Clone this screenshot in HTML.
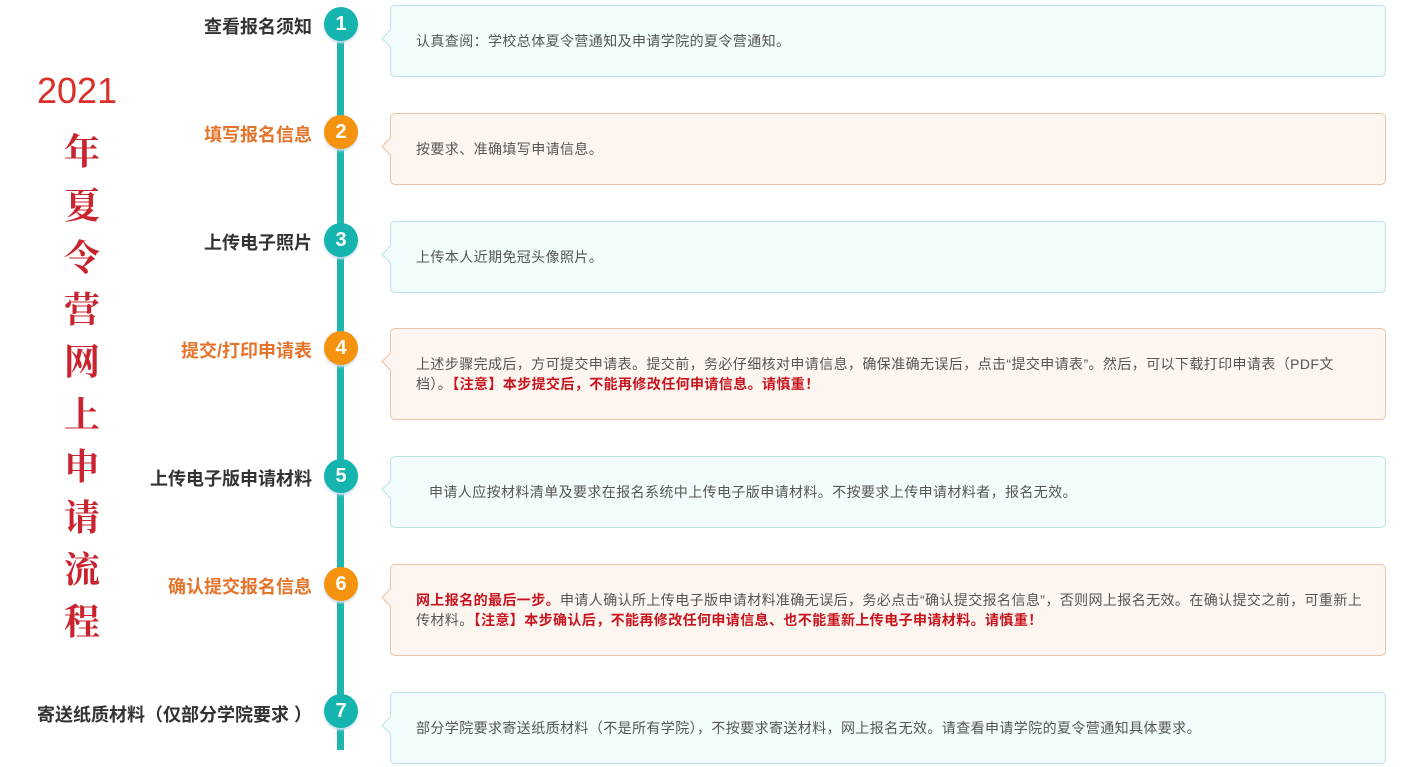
<!DOCTYPE html>
<html><head><meta charset="utf-8"><style>
body{margin:0;width:1417px;height:767px;background:#fff;position:relative;overflow:hidden;font-family:"Liberation Sans","Noto Sans CJK SC",sans-serif}
.line{position:absolute;left:337px;top:20px;width:7px;height:730px;background:#1fb5b0}
.c{position:absolute;width:34px;height:34px;border-radius:50%;color:#fff;font:bold 20px "Liberation Sans",sans-serif;text-align:center;line-height:34px;left:324px;box-shadow:0 2px 2px #cde}
.t{background:#16b4ae}.o{background:#f5930f}
.l{position:absolute;right:1105px;font-weight:bold;font-size:18px;white-space:nowrap;transform:translateY(-50%)}
.dk{color:#333}.or{color:#e5742a}
.b{position:absolute;left:390px;width:996px;border-radius:5px;font-size:14px;letter-spacing:0.4px;color:#555;box-sizing:border-box;padding-left:25px;display:flex;align-items:center;line-height:20px}
.bt{background:#f2fcfc;border:1px solid #b9e3e6}
.bo{background:#fdf5ef;border:1px solid #ecc1a6}
.b:before{content:"";position:absolute;left:-7px;top:26px;width:12px;height:12px;transform:rotate(45deg);background:inherit;border-left:inherit;border-bottom:inherit}
.r{color:#c8141e;font-weight:bold}
.yr{position:absolute;left:37px;top:70px;color:#d9302a;font-size:36px}
.v{position:absolute;left:62px;width:40px;text-align:center;color:#c8232e;font-size:36px;font-weight:bold;font-family:"Noto Serif CJK SC",serif}
</style></head><body>
<div class="yr">2021</div>
<div class="v" style="top:124px">年</div>
<div class="v" style="top:178px">夏</div>
<div class="v" style="top:230px">令</div>
<div class="v" style="top:282px">营</div>
<div class="v" style="top:334px">网</div>
<div class="v" style="top:387px">上</div>
<div class="v" style="top:439px">申</div>
<div class="v" style="top:490px">请</div>
<div class="v" style="top:542px">流</div>
<div class="v" style="top:594px">程</div>
<div class="line"></div>
<div class="c t" style="top:7px">1</div>
<div class="c o" style="top:115px">2</div>
<div class="c t" style="top:223px">3</div>
<div class="c o" style="top:331px">4</div>
<div class="c t" style="top:459px">5</div>
<div class="c o" style="top:567px">6</div>
<div class="c t" style="top:694px">7</div>
<div class="l dk" style="top:26px">查看报名须知</div>
<div class="l or" style="top:134px">填写报名信息</div>
<div class="l dk" style="top:242px">上传电子照片</div>
<div class="l or" style="top:350px">提交/打印申请表</div>
<div class="l dk" style="top:478px">上传电子版申请材料</div>
<div class="l or" style="top:586px">确认提交报名信息</div>
<div class="l dk" style="top:714px">寄送纸质材料（仅部分学院要求 ）</div>
<div class="b bt" style="top:5px;height:72px">认真查阅：学校总体夏令营通知及申请学院的夏令营通知。</div>
<div class="b bo" style="top:113px;height:72px">按要求、准确填写申请信息。</div>
<div class="b bt" style="top:221px;height:72px">上传本人近期免冠头像照片。</div>
<div class="b bo" style="top:328px;height:92px;padding-right:22px"><div>上述步骤完成后，方可提交申请表。提交前，务必仔细核对申请信息，确保准确无误后，点击“提交申请表”。然后，可以下载打印申请表（PDF文档）。<span class="r">【注意】本步提交后，不能再修改任何申请信息。请慎重！</span></div></div>
<div class="b bt" style="top:456px;height:72px;padding-left:38px">申请人应按材料清单及要求在报名系统中上传电子版申请材料。不按要求上传申请材料者，报名无效。</div>
<div class="b bo" style="top:564px;height:92px;padding-right:22px"><div><span class="r">网上报名的最后一步。</span>申请人确认所上传电子版申请材料准确无误后，务必点击“确认提交报名信息”，否则网上报名无效。在确认提交之前，可重新上传材料。<span class="r">【注意】本步确认后，不能再修改任何申请信息、也不能重新上传电子申请材料。请慎重！</span></div></div>
<div class="b bt" style="top:692px;height:72px">部分学院要求寄送纸质材料（不是所有学院），不按要求寄送材料，网上报名无效。请查看申请学院的夏令营通知具体要求。</div>
</body></html>
